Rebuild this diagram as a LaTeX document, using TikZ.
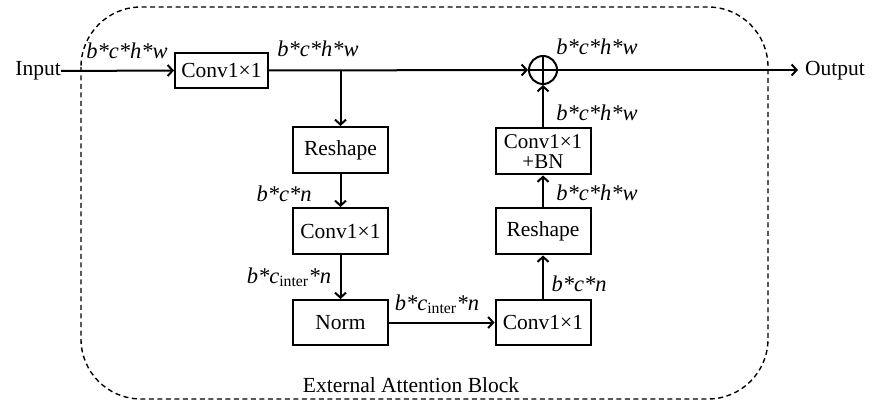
\documentclass[tikz,border=0pt]{standalone}
\usepackage{fontspec}
\setmainfont{Liberation Serif}
\usetikzlibrary{arrows.meta}
\begin{document}
\begin{tikzpicture}[x=1pt,y=-1pt,
  box/.style={draw,line width=2pt,minimum width=95pt,minimum height=46pt,inner sep=1pt,align=center,font=\fontsize{21.5}{19}\selectfont},
  lab/.style={font=\fontsize{22.5}{22.5}\selectfont\itshape,inner sep=0pt},
  txt/.style={font=\fontsize{21.5}{21.5}\selectfont,inner sep=0pt},
  conn/.style={line width=2pt,-{Straight Barb[length=5pt,width=11pt,line width=2pt]}}]
\useasboundingbox (0,0) rectangle (878,403);
\draw[line width=1.4pt,dash pattern=on 5pt off 3.5pt,rounded corners=60pt] (81,7) rectangle (768,399);
\node[txt,anchor=east] (in) at (61,71) {Input};
\node[box,minimum width=93pt,minimum height=35pt] (c1) at (221.5,70.5) {Conv1×1};
\node[draw,circle,line width=2pt,minimum size=28pt,inner sep=0pt] (add) at (543,70) {};
\draw[line width=2pt] (add.north) -- (add.south) (add.west) -- (add.east);
\node[txt,anchor=west] (out) at (805,71) {Output};
\node[box] (r1) at (340.5,150) {Reshape};
\node[box] (c2) at (340.5,231) {Conv1×1};
\node[box,minimum height=45pt] (nm) at (340.5,322.5) {Norm};
\node[box,minimum height=45pt] (c3) at (543,322.5) {Conv1×1};
\node[box] (r2) at (543,231.5) {Reshape};
\node[box,inner sep=0pt,font=\fontsize{21}{20.5}\selectfont] (c4) at (543,151.5) {Conv1×1\\+BN};
\coordinate (br) at (340.5,70.5);
\draw[conn] (in.east) -- (c1.west);
\draw[conn] (c1.east) -- (add.west);
\draw[conn] (add.east) -- (798,70) coordinate (oe);
\draw[conn] (br) -- (r1.north);
\draw[conn] (r1.south) -- (c2.north);
\draw[conn] (c2.south) -- (nm.north);
\draw[conn] (nm.east) -- (c3.west);
\draw[conn] (c3.north) -- (r2.south);
\draw[conn] (r2.north) -- (c4.south);
\draw[conn] (c4.north) -- (add.south);
\node[lab] (l1) at (127,51) {b*c*h*w};
\node[lab] (l2) at (318,49) {b*c*h*w};
\node[lab] (l3) at (597,47) {b*c*h*w};
\node[lab] (l4) at (597,113) {b*c*h*w};
\node[lab] (l5) at (597,193) {b*c*h*w};
\node[lab] (l6) at (579,284) {b*c*n};
\node[lab] (l7) at (284,194) {b*c*n};
\node[lab] (l8) at (289,277) {b*c\textsubscript{\upshape inter}*n};
\node[lab] (l9) at (437,304) {b*c\textsubscript{\upshape inter}*n};
\node[txt] (ttl) at (411,385) {External Attention Block};
\end{tikzpicture}
\end{document}
